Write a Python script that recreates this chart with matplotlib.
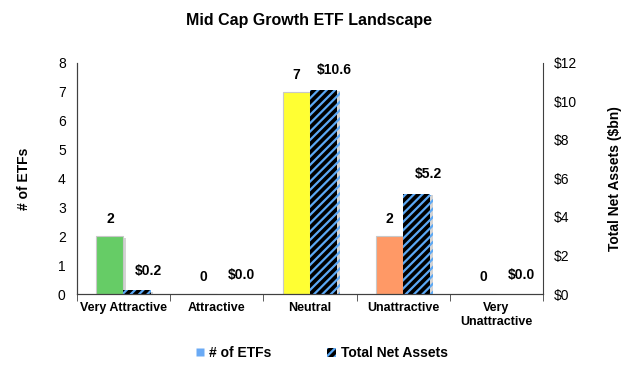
import matplotlib
matplotlib.use('Agg')
import matplotlib.pyplot as plt
import matplotlib.patheffects as pe
from matplotlib.patches import Patch
from matplotlib.lines import Line2D
import numpy as np

categories = ['Very Attractive', 'Attractive', 'Neutral', 'Unattractive', 'Very\nUnattractive']
num_etfs = [2, 0, 7, 2, 0]
net_assets = [0.2, 0.0, 10.6, 5.2, 0.0]
bar_colors = ['#66cc66', '#d9d9d9', '#ffff33', '#ff9966', '#d9d9d9']

plt.rcParams['font.family'] = ['Liberation Sans', 'DejaVu Sans']
plt.rcParams['hatch.linewidth'] = 1.6

fig = plt.figure(figsize=(6.3, 3.68), dpi=100)
ax = fig.add_axes([0.122, 0.201, 0.74, 0.628])
ax2 = ax.twinx()

x = np.arange(len(categories))
w = 0.29
shadow = [pe.SimplePatchShadow(offset=(2, -1), shadow_rgbFace='#a0a0a0', alpha=0.45), pe.Normal()]

b1 = ax.bar(x - w / 2, num_etfs, w, color=bar_colors, edgecolor='#c8c8c8', linewidth=0.8)
for p in b1:
    p.set_path_effects(shadow)
b2 = ax2.bar(x + w / 2, net_assets, w, color='black', edgecolor='#5ba8f5',
             linewidth=0, hatch='////')
for p in b2:
    p.set_path_effects(shadow)

for xi, v in zip(x, num_etfs):
    ax.text(xi - w / 2, v + 0.35, f'{v}', ha='center', va='bottom',
            fontsize=10, fontweight='bold')
for xi, v in zip(x, net_assets):
    ax2.text(xi + w / 2 + 0.12, v + 0.65, f'${v:.1f}', ha='center', va='bottom',
             fontsize=10, fontweight='bold')

ax.set_xlim(-0.5, len(categories) - 0.5)
ax.set_ylim(0, 8)
ax2.set_ylim(0, 12)
ax.set_yticks(range(0, 9))
ax2.set_yticks(range(0, 13, 2))
ax2.set_yticklabels([f'${v}' for v in range(0, 13, 2)])

ax.set_xticks(x)
ax.set_xticklabels(categories, fontsize=9, fontweight='bold')
ax.set_xticks(np.arange(-0.5, len(categories), 1), minor=True)
ax.tick_params(axis='x', which='major', length=0, pad=6)
ax.tick_params(axis='x', which='minor', length=5, direction='out', color='#404040')
ax.tick_params(axis='y', length=0, labelsize=10, pad=8)
ax2.tick_params(axis='y', length=0, labelsize=10, pad=8)

for a in (ax, ax2):
    a.spines['top'].set_visible(False)
    for s in ('left', 'right', 'bottom'):
        a.spines[s].set_color('#404040')
ax.spines['right'].set_visible(False)

ax.set_ylabel('# of ETFs', fontsize=10, fontweight='bold', labelpad=19)
ax2.set_ylabel('Total Net Assets ($bn)', fontsize=10, fontweight='bold', labelpad=22)

fig.suptitle('Mid Cap Growth ETF Landscape', x=0.49, y=0.965, fontsize=11.5, fontweight='bold')

handles = [Line2D([0], [0], marker='s', color='none', markerfacecolor='#6aaaf5',
                  markeredgecolor='none', markersize=6),
           Patch(facecolor='black', edgecolor='#5ba8f5', linewidth=0, hatch='////')]
fig.legend(handles, ['# of ETFs', 'Total Net Assets'], loc='center', ncol=2,
           bbox_to_anchor=(0.51, 0.04), frameon=False, handlelength=0.7,
           handletextpad=0.3, columnspacing=4, prop={'weight': 'bold', 'size': 10})

fig.savefig('out.png', dpi=100)
